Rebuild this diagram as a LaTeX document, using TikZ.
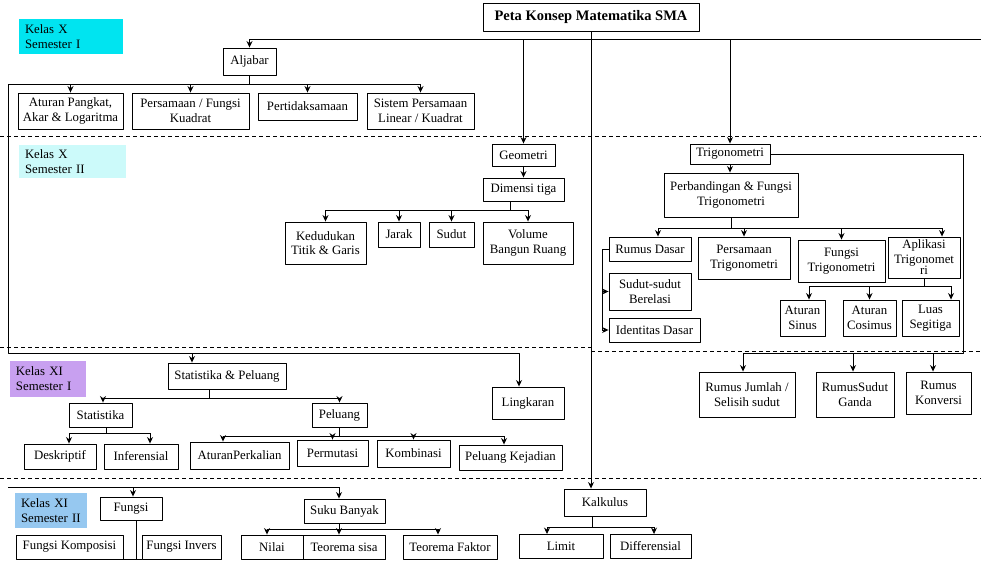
\documentclass[tikz,border=0pt]{standalone}
\usepackage{fontspec}
\setmainfont{Liberation Serif}
\usetikzlibrary{arrows.meta}
\definecolor{kelasa}{RGB}{0,228,240}
\definecolor{kelasb}{RGB}{204,250,250}
\definecolor{kelasc}{RGB}{200,160,240}
\definecolor{kelasd}{RGB}{150,200,240}
\tikzset{
	kotak/.style={draw, align=center, inner sep=1pt, font=\fontsize{12.8}{14.5}\selectfont},
	kelas/.style={align=left, inner xsep=6pt, inner ysep=1pt, font=\fontsize{12.8}{15}\selectfont},
	garis/.style={dashed, dash pattern=on 4pt off 3pt},
}
\begin{document}
\begin{tikzpicture}[x=1pt, y=-1pt, line width=0.9pt, line join=round, >={Stealth[length=6.5pt,width=6pt]}]
				\useasboundingbox (0,0) rectangle (981,562);
				% pemisah semester
				\draw[garis] (0,136)--(981,136);
				\draw[garis] (0,347)--(591,347) (591,351)--(981,351);
				\draw[garis] (0,478)--(981,478);
				% label kelas
				\node[kelas, fill=kelasa, text width=92pt, minimum height=35pt] (kx1) at (71,36.5) {Kelas X\\Semester I};
				\node[kelas, fill=kelasb, text width=95pt, minimum height=33pt] (kx2) at (72.5,161.5) {Kelas X\\Semester II};
				\node[kelas, fill=kelasc, text width=64pt, minimum height=36pt] (kxi1) at (48,379) {Kelas XI\\Semester I};
				\node[kelas, fill=kelasd, text width=60pt, minimum height=35pt] (kxi2) at (51,510.5) {Kelas XI\\Semester II};
				\node[draw, font=\bfseries\fontsize{14.5}{16}\selectfont, minimum width=216pt, minimum height=28pt] (judul) at (591,17) {Peta Konsep Matematika SMA};
				% kotak materi: nama/x/y/lebar/tinggi/isi
				\foreach \nm/\cx/\cy/\w/\h/\isi in {
					aljabar/249.5/61.5/53/27/Aljabar,
					apk/70.5/111/105/36/{Aturan Pangkat,\\Akar \& Logaritma},
					pfk/190.5/111/117/36/{Persamaan / Fungsi\\Kuadrat},
					ptd/307.5/106.5/99/27/Pertidaksamaan,
					spl/420.5/111/107/36/{Sistem Persamaan\\Linear / Kuadrat},
					geo/523.5/155/63/22/Geometri,
					dim/523.5/189.5/81/23/Dimensi tiga,
					kdd/325.5/243/81/42/{Kedudukan\\Titik \& Garis},
					jrk/399/234.5/42/25/Jarak,
					sdt/451.5/234.5/45/25/Sudut,
					vol/528/243/90/42/{Volume\\Bangun Ruang},
					trig/730/154/80/20/Trigonometri,
					pft/731/195/134/44/{Perbandingan \& Fungsi\\Trigonometri},
					rd/650/249/82/24/Rumus Dasar,
					pt/744/258/92/42/{Persamaan\\Trigonometri},
					ft/841.5/261/87/42/{Fungsi\\Trigonometri},
					at/924/257.5/72/41/{Aplikasi\\Trigonomet\\[-3pt]ri},
					ssb/650/291.5/82/37/{Sudut-sudut\\Berelasi},
					id/654.5/330/91/24/Identitas Dasar,
					as/802.5/318/45/36/{Aturan\\Sinus},
					ac/869.5/318/53/36/{Aturan\\Cosimus},
					ls/930.5/318/57/36/{Luas\\Segitiga},
					sp/227/376/118/26/Statistika \& Peluang,
					lkr/528/403/72/32/Lingkaran,
					rjs/747/394.5/96/45/{Rumus Jumlah /\\Selisih sudut},
					rsg/855/394.5/78/45/{RumusSudut\\Ganda},
					rk/938.5/393/65/42/{Rumus\\Konversi},
					stat/100.5/415/63/24/Statistika,
					pel/339.5/415/55/24/Peluang,
					desk/60/456.5/72/25/Deskriptif,
					inf/141/456.5/74/25/Inferensial,
					apl/239.5/455.5/99/27/AturanPerkalian,
					perm/332.5/453/71/26/Permutasi,
					komb/413.5/453.5/73/27/Kombinasi,
					pk/510.5/457.5/103/25/Peluang Kejadian,
					fng/131/508.5/62/23/Fungsi,
					skb/344.5/511/81/24/Suku Banyak,
					kal/605/502.5/82/27/Kalkulus,
					fk/69.5/547/107/24/Fungsi Komposisi,
					fi/181.5/547/79/24/Fungsi Invers,
					nil/272/547/62/24/Nilai,
					ts/344/547/82/24/Teorema sisa,
					tf/450/547/94/24/Teorema Faktor,
					lim/561/546.5/84/24/Limit,
					dif/650.5/546.5/81/24/Differensial}{
					\node[kotak, minimum width=\w pt, minimum height=\h pt] (\nm) at (\cx,\cy) {\isi};
				};
				% garis dari judul
				\coordinate (kanan) at (981,39);
				\draw[->] (kanan) -| (aljabar.north);
				\draw[->] (geo.north |- kanan) -- (geo.north);
				\draw[->] (trig.north |- kanan) -- (trig.north);
				\draw[->] (judul.south) -- (judul.south |- kal.north);
				% aljabar
				\coordinate (kiri) at (8,84);
				\draw (aljabar.south) -- (aljabar.south |- kiri);
				\draw (kiri) -- (spl.north |- kiri);
				\foreach \n in {apk,pfk,ptd,spl} \draw[->] (\n.north |- kiri) -- (\n.north);
				\coordinate (kiribawah) at (8,353);
				\draw[->] (kiri) -- (kiribawah) -| ([xshift=-9pt]lkr.north);
				\draw[->] ([xshift=-35pt]sp.north |- kiribawah) -- ([xshift=-35pt]sp.north);
				% geometri
				\draw[->] (geo.south) -- (dim.north);
				\coordinate (bdim) at (0,210);
				\draw ([xshift=-13.5pt]dim.south) -- ([xshift=-13.5pt]dim.south |- bdim);
				\draw (kdd.north |- bdim) -- (vol.north |- bdim);
				\foreach \n in {kdd,jrk,sdt,vol} \draw[->] (\n.north |- bdim) -- (\n.north);
				% trigonometri
				\draw[->] (trig.south) -- (trig.south |- pft.north);
				\coordinate (bpft) at (0,228);
				\draw (pft.south) -- (pft.south |- bpft);
				\draw ([xshift=8pt]rd.north |- bpft) -- ([xshift=18pt]at.north |- bpft);
				\foreach \n/\s in {rd/8,pt/0,ft/0,at/18} \draw[->] ([xshift=\s pt]\n.north |- bpft) -- ([xshift=\s pt]\n.north);
				\coordinate (brd) at (602,0);
				\draw (rd.west) -- (rd.west -| brd) -- (brd |- id.west);
				\foreach \n in {ssb,id} \draw[->] (brd |- \n.west) -- (\n.west);
				\coordinate (bat) at (0,286);
				\draw (at.south) -- (at.south |- bat);
				\draw ([xshift=6.5pt]as.north |- bat) -- ([xshift=20.5pt]ls.north |- bat);
				\foreach \n/\s in {as/6.5,ac/0,ls/20.5} \draw[->] ([xshift=\s pt]\n.north |- bat) -- ([xshift=\s pt]\n.north);
				\coordinate (tkanan) at (963,353);
				\draw (trig.east) -| (tkanan) -- ([xshift=-4pt]rjs.north |- tkanan);
				\foreach \n/\s in {rjs/-4,rsg/-2,rk/-5.5} \draw[->] ([xshift=\s pt]\n.north |- tkanan) -- ([xshift=\s pt]\n.north);
				% statistika & peluang
				\coordinate (bsp) at (0,398);
				\draw ([xshift=-18pt]sp.south) -- ([xshift=-18pt]sp.south |- bsp);
				\draw ([xshift=2.5pt]stat.north |- bsp) -- (pel.north |- bsp);
				\foreach \n/\s in {stat/2.5,pel/0} \draw[->] ([xshift=\s pt]\n.north |- bsp) -- ([xshift=\s pt]\n.north);
				\coordinate (bstat) at (0,433);
				\draw ([xshift=5.5pt]stat.south) -- ([xshift=5.5pt]stat.south |- bstat);
				\draw ([xshift=9pt]desk.north |- bstat) -- ([xshift=9pt]inf.north |- bstat);
				\foreach \n in {desk,inf} \draw[->] ([xshift=9pt]\n.north |- bstat) -- ([xshift=9pt]\n.north);
				\coordinate (bpel) at (0,436);
				\draw (pel.south) -- (pel.south |- bpel);
				\draw ([xshift=-16.5pt]apl.north |- bpel) -- ([xshift=-6.5pt]pk.north |- bpel);
				\foreach \n/\s in {apl/-16.5,perm/0,komb/0,pk/-6.5} \draw[->] ([xshift=\s pt]\n.north |- bpel) -- ([xshift=\s pt]\n.north);
				% fungsi, suku banyak, kalkulus
				\coordinate (kiri4) at (8,487);
				\draw (kiri4) -- ([xshift=-5.5pt]skb.north |- kiri4);
				\foreach \n/\s in {fng/2,skb/-5.5} \draw[->] ([xshift=\s pt]\n.north |- kiri4) -- ([xshift=\s pt]\n.north);
				\coordinate (bfng) at (0,559);
				\draw ([xshift=5pt]fng.south) -- ([xshift=5pt]fng.south |- bfng);
				\draw (fk.south east) -- (fi.south west);
				\coordinate (bskb) at (0,529);
				\draw ([xshift=-5.5pt]skb.south) -- ([xshift=-5.5pt]skb.south |- bskb);
				\draw ([xshift=-5pt]nil.north |- bskb) -- ([xshift=-12pt]tf.north |- bskb);
				\foreach \n/\s in {nil/-5,ts/-5,tf/-12} \draw[->] ([xshift=\s pt]\n.north |- bskb) -- ([xshift=\s pt]\n.north);
				\coordinate (bkal) at (0,527);
				\draw ([xshift=-13pt]kal.south) -- ([xshift=-13pt]kal.south |- bkal);
				\draw ([xshift=-14pt]lim.north |- bkal) -- ([xshift=3.5pt]dif.north |- bkal);
				\foreach \n/\s in {lim/-14,dif/3.5} \draw[->] ([xshift=\s pt]\n.north |- bkal) -- ([xshift=\s pt]\n.north);
\end{tikzpicture}
\end{document}
